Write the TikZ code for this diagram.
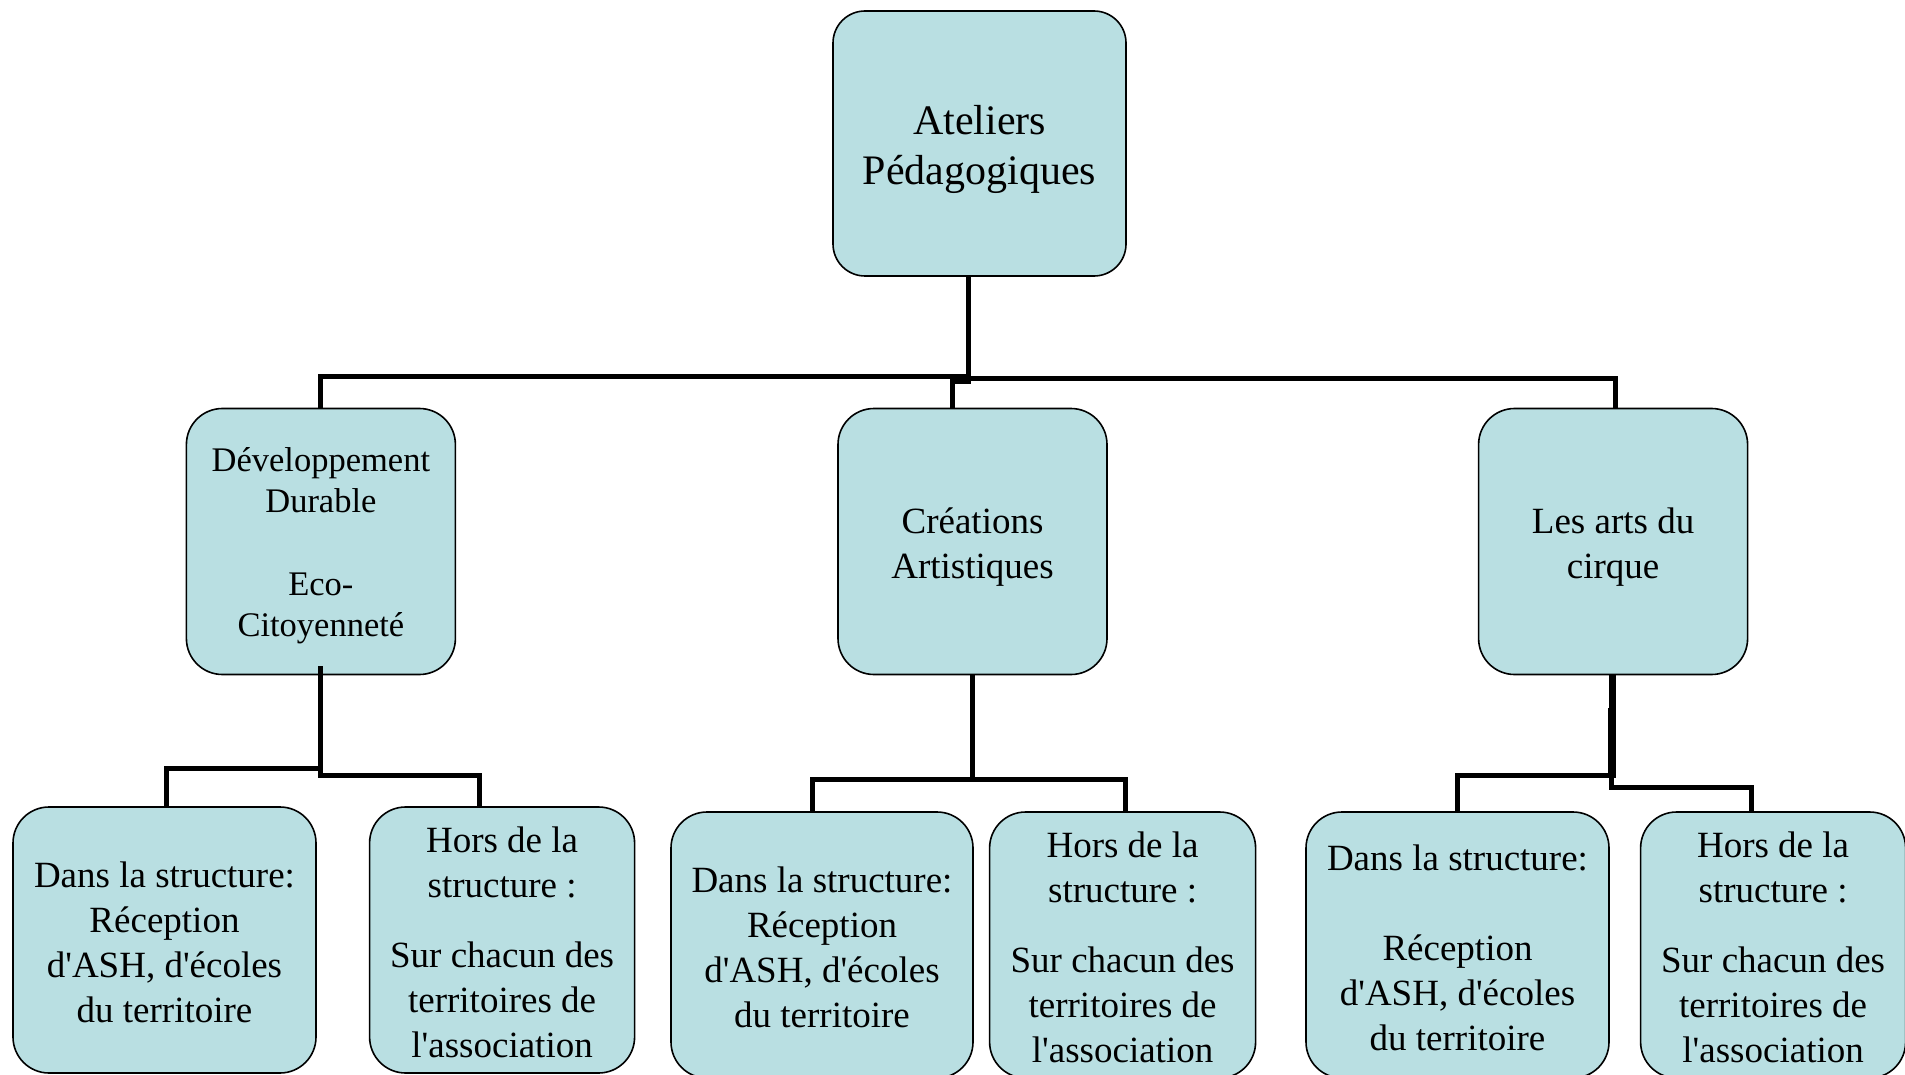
\documentclass[tikz,border=0pt]{standalone}
\usepackage{fontspec}
\setmainfont{Liberation Serif}[Ligatures=TeXOff]
\usepackage{tikz}
\usetikzlibrary{positioning}
\definecolor{bleuclair}{RGB}{185,223,226}
\newcommand{\haut}[1]{\rule{0pt}{#1}}
\tikzset{
	boite/.style={
		shape=rectangle,
		draw=black,
		line width=1.6pt,
		fill=bleuclair,
		align=center,
		inner sep=2pt,
		minimum height=266pt
	},
	racine/.style={
		boite,
		rounded corners=32pt,
		minimum width=293pt,
		minimum height=265pt,
		font=\fontsize{42}{50}\selectfont
	},
	theme/.style={
		boite,
		rounded corners=36pt,
		minimum width=269pt,
		font=\fontsize{37}{45}\selectfont
	},
	lieu/.style={
		boite,
		rounded corners=36pt,
		font=\fontsize{37}{45}\selectfont
	},
	trait/.style={line width=5pt}
}

\begin{document}
\begin{tikzpicture}[x=1pt,y=-1pt]
		\useasboundingbox (0,0) rectangle (1905,1075);
		
		\node[racine] (root) at (979.5,143.5) {\haut{41pt}Ateliers\\Pédagogiques};
		
		\node[theme] (crea) at (972.5,541.5) {\haut{36pt}Créations\\Artistiques};
		\node[theme,font=\fontsize{34.5}{41}\selectfont] (dev) [left = 381pt of crea] {\haut{33pt}Développement\\Durable\\[42pt]Eco-\\Citoyenneté};
		\node[theme] (cirque) [right = 370pt of crea] {\haut{36pt}Les arts du\\cirque};
		
		\node[lieu,minimum width=303pt] (dans1) at (164.5,940) {\haut{31pt}Dans la structure:\\Réception\\d'ASH, d'écoles\\du territoire};
		\node[lieu,minimum width=265pt] (hors1) [right = 52pt of dans1] {\haut{31pt}Hors de la\\structure :\\[25pt]Sur chacun des\\territoires de\\l'association};
		\node[lieu,minimum width=302pt] (dans2) at (822,945) {\haut{31pt}Dans la structure:\\Réception\\d'ASH, d'écoles\\du territoire};
		\node[lieu,minimum width=266pt] (hors2) [right = 15pt of dans2] {\haut{31pt}Hors de la\\structure :\\[25pt]Sur chacun des\\territoires de\\l'association};
		\node[lieu,minimum width=303pt] (dans3) at (1457.5,945) {\haut{31pt}Dans la structure:\\[45pt]Réception\\d'ASH, d'écoles\\du territoire};
		\node[lieu,minimum width=265pt] (hors3) [right = 30pt of dans3] {\haut{31pt}Hors de la\\structure :\\[25pt]Sur chacun des\\territoires de\\l'association};
		
		\path[draw,trait]
		([xshift=-11.5pt]root.south) -- ++(0,100) -| (dev.north)
		([xshift=-11.5pt]root.south) -- ++(0,102) -| ([xshift=2.5pt]cirque.north)
		([xshift=-11.5pt]root.south) -- ++(0,105) -| ([xshift=-20.5pt]crea.north);
		
		\path[draw,trait]
		([yshift=9pt]dev.south) -- ++(0,102) -| ([xshift=2pt]dans1.north)
		([yshift=9pt]dev.south) -- ++(0,109) -| ([xshift=-22.5pt]hors1.north)
		(crea.south) -- ++(0,104) -| ([xshift=-10pt]dans2.north)
		(crea.south) -- ++(0,104) -| ([xshift=3pt]hors2.north)
		(cirque.south) -- ++(0,100) -| (dans3.north)
		([xshift=-3pt,yshift=-33pt]cirque.south) -- ++(0,67)
		([xshift=-2pt]cirque.south) -- ++(0,112) -| ([xshift=-21.5pt]hors3.north);
		
\end{tikzpicture}
\end{document}
